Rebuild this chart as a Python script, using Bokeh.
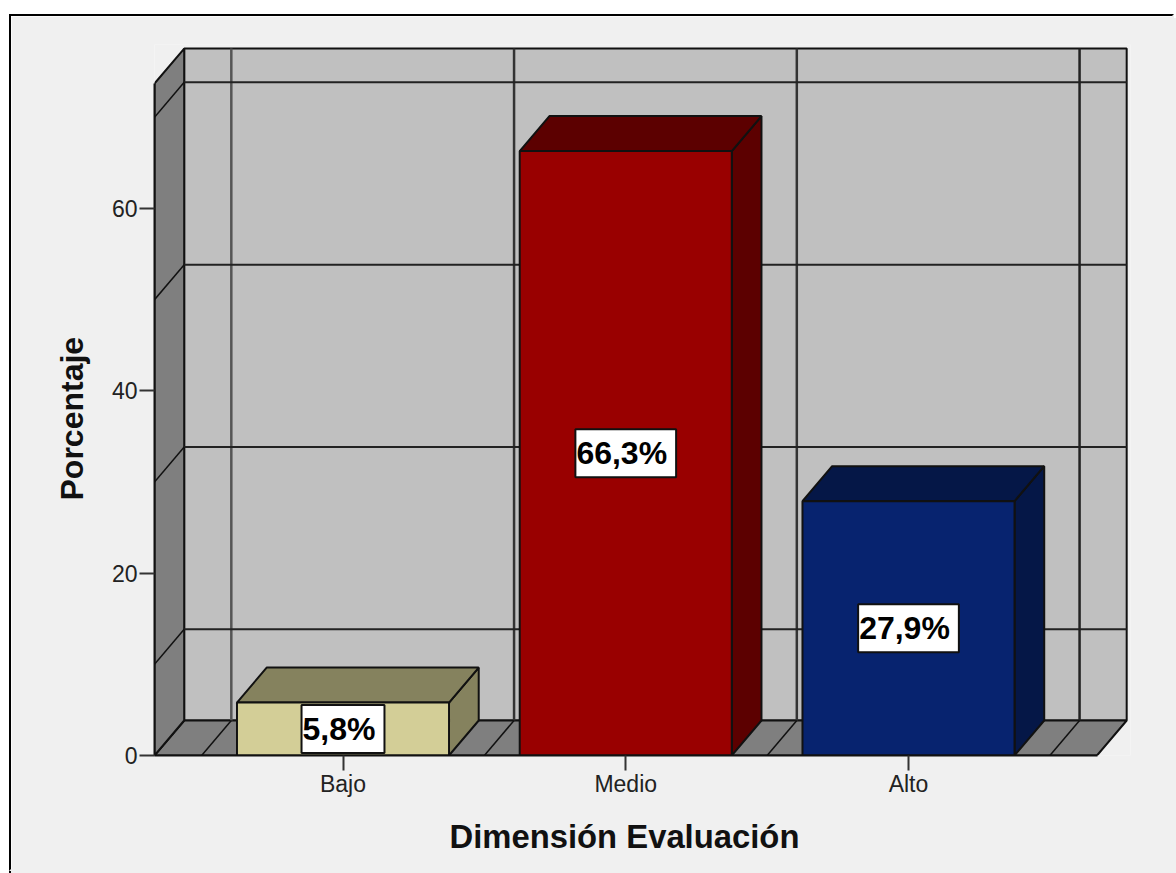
# Bar chart in a 3D box style: percentage of responses per evaluation level
from bokeh.core.properties import value
from bokeh.embed import file_html
from bokeh.models import ColumnDataSource, FixedTicker, Range1d, Title
from bokeh.plotting import figure
from bokeh.resources import INLINE

categories = ["Bajo", "Medio", "Alto"]
percentages = [5.8, 66.3, 27.9]
labels = ["5,8%", "66,3%", "27,9%"]
front_colors = ["#D3CE97", "#990000", "#07236F"]
shade_colors = ["#85825E", "#5C0000", "#051747"]
y_ticks = [0, 20, 40, 60]
wall_grid_values = [10, 30, 50, 70]
x_title = "Dimensión Evaluación"
y_title = "Porcentaje"

FONT = "Liberation Sans"
EDGE = "#111111"
PANEL = "#F0F0F0"
BAR_WIDTH = 0.75
DEPTH_X = 0.105   # oblique offset of the box, in category units
DEPTH_Y = 3.84    # oblique offset of the box, in percentage units
X_MIN, X_MAX = 1 / 3, 3 + 2 / 3
Y_TOP = 73.7

# Panel placement on the page: the canvas starts just inside the dark edge
PANEL_LEFT, PANEL_TOP = 11, 16
EDGE_WIDTH = 2

positions = list(range(1, len(categories) + 1))

p = figure(
    width=1176 - PANEL_LEFT - 2 * EDGE_WIDTH, height=873 - PANEL_TOP - 2 * EDGE_WIDTH,
    output_backend="svg", toolbar_location=None,
    x_range=Range1d(1 / 3, 1 / 3 + 976 / 282.75), y_range=Range1d(0, 711 / 9.117),
    min_border_left=154 - PANEL_LEFT, min_border_right=46, min_border_top=44 - PANEL_TOP,
    min_border_bottom=118,
    border_fill_color=PANEL, background_fill_color=PANEL, outline_line_color=None,
    margin=(PANEL_TOP - EDGE_WIDTH, 0, 0, PANEL_LEFT - EDGE_WIDTH),
    styles={"border-left": f"{EDGE_WIDTH}px solid #000000",
            "border-top": f"{EDGE_WIDTH}px solid #000000",
            "border-right": f"{EDGE_WIDTH}px solid {PANEL}",
            "border-bottom": f"{EDGE_WIDTH}px solid {PANEL}",
            "box-sizing": "content-box",
            # carry the panel and its left edge out to the window's right and bottom
            "box-shadow": f"{EDGE_WIDTH}px 4px 0 {PANEL}, 0 4px 0 #000000"},
)
p.xgrid.visible = False
p.ygrid.visible = False

# Back wall, floor and left wall
p.quad(left=X_MIN + DEPTH_X, right=X_MAX + DEPTH_X, bottom=DEPTH_Y, top=Y_TOP + DEPTH_Y,
       fill_color="#C0C0C0", line_color=EDGE, line_width=2)
p.patch([X_MIN, X_MAX, X_MAX + DEPTH_X, X_MIN + DEPTH_X], [0, 0, DEPTH_Y, DEPTH_Y],
        fill_color="#7F7F7F", line_color=EDGE, line_width=2)
p.patch([X_MIN, X_MIN + DEPTH_X, X_MIN + DEPTH_X, X_MIN],
        [0, DEPTH_Y, Y_TOP + DEPTH_Y, Y_TOP],
        fill_color="#7F7F7F", line_color=EDGE, line_width=2)

# Grid lines wrapping around the walls and floor
boundaries = [0.5, 1.5, 2.5, 3.5]
p.segment(x0=[b + DEPTH_X for b in boundaries], x1=[b + DEPTH_X for b in boundaries],
          y0=DEPTH_Y, y1=Y_TOP + DEPTH_Y, line_color=["#555555", "#333333", "#333333", "#222222"],
          line_width=2.5)
p.segment(x0=boundaries, x1=[b + DEPTH_X for b in boundaries], y0=0, y1=DEPTH_Y,
          line_color=EDGE, line_width=1.5)
p.segment(x0=X_MIN + DEPTH_X, x1=X_MAX + DEPTH_X,
          y0=[v + DEPTH_Y for v in wall_grid_values], y1=[v + DEPTH_Y for v in wall_grid_values],
          line_color="#222222", line_width=2)
p.segment(x0=X_MIN, x1=X_MIN + DEPTH_X, y0=wall_grid_values,
          y1=[v + DEPTH_Y for v in wall_grid_values], line_color=EDGE, line_width=1.5)

# Bars: side and top faces first, then the front
for x, v, front, shade in zip(positions, percentages, front_colors, shade_colors):
    x0, x1 = x - BAR_WIDTH / 2, x + BAR_WIDTH / 2
    p.patch([x1, x1 + DEPTH_X, x1 + DEPTH_X, x1], [0, DEPTH_Y, v + DEPTH_Y, v],
            fill_color=shade, line_color=EDGE, line_width=2)
    p.patch([x0, x1, x1 + DEPTH_X, x0 + DEPTH_X], [v, v, v + DEPTH_Y, v + DEPTH_Y],
            fill_color=shade, line_color=EDGE, line_width=2)
    p.quad(left=x0, right=x1, bottom=0, top=v, fill_color=front, line_color=EDGE, line_width=2)

# Value labels in white boxes at the middle of each bar
label_source = ColumnDataSource(dict(x=positions, y=[v / 2 for v in percentages], text=labels))
p.text(x="x", y="y", text="text", source=label_source, text_align="center",
       text_baseline="middle", text_font=value(FONT), text_font_style="bold",
       text_font_size="32px", text_color="#000000", background_fill_color="#FFFFFF",
       border_line_color="#111111", border_line_width=2, padding=(1, 9, 6, 6))

# Axes
yaxis = p.yaxis[0]
yaxis.ticker = FixedTicker(ticks=y_ticks)
yaxis.bounds = (0, Y_TOP)
yaxis.minor_tick_line_color = None
yaxis.major_tick_in = 0
yaxis.major_tick_out = 15
yaxis.major_tick_line_width = 2
yaxis.major_tick_line_color = "#333333"
yaxis.axis_line_color = EDGE
yaxis.axis_line_width = 2
yaxis.major_label_text_font = FONT
yaxis.major_label_text_font_size = "23px"
yaxis.major_label_text_color = "#222222"
yaxis.major_label_standoff = 2

xaxis = p.xaxis[0]
xaxis.ticker = FixedTicker(ticks=positions)
xaxis.major_label_overrides = dict(zip(positions, categories))
xaxis.bounds = (X_MIN, X_MAX)
xaxis.minor_tick_line_color = None
xaxis.major_tick_in = 0
xaxis.major_tick_out = 15
xaxis.major_tick_line_width = 2
xaxis.major_tick_line_color = "#333333"
xaxis.axis_line_color = EDGE
xaxis.axis_line_width = 2
xaxis.major_label_text_font = FONT
xaxis.major_label_text_font_size = "23px"
xaxis.major_label_text_color = "#222222"
xaxis.major_label_standoff = 0

# Axis titles start at an offset so they sit centred on the front face of the box
p.add_layout(Title(
    text=x_title, align="left", offset=295, standoff=32, text_font=FONT,
    text_font_style="bold", text_font_size="32.8px", text_color="#111111",
), "below")
p.add_layout(Title(
    text=y_title, align="left", offset=255, standoff=38, text_font=FONT,
    text_font_style="bold", text_font_size="32px", text_color="#111111",
), "left")

open("out.html", "w").write(file_html(p, INLINE))
